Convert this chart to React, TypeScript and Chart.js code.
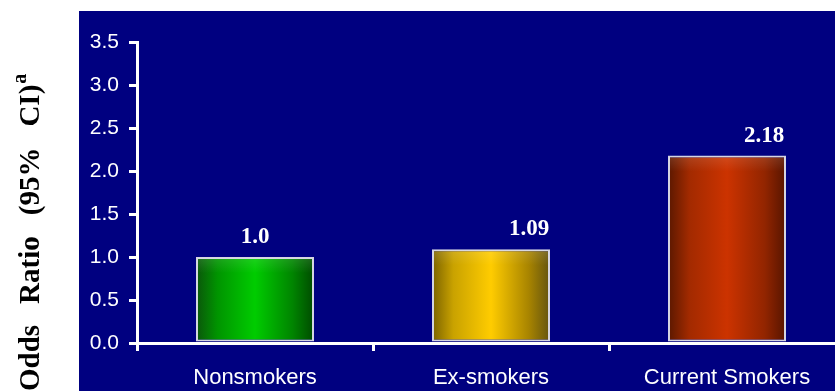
import { useEffect, useRef } from "react";
import { Chart, registerables } from "chart.js";

Chart.register(...registerables);

// Smoking status groups and their odds ratios
const categories = ["Nonsmokers", "Ex-smokers", "Current Smokers"];
const oddsRatios = [1.0, 1.09, 2.18];
const valueLabels = ["1.0", "1.09", "2.18"];
const yTickValues = [0, 0.5, 1, 1.5, 2, 2.5, 3, 3.5];

// Horizontal shading of each bar (edge -> centre -> edge)
const barShades = [
  ["#0b550b", "#009400", "#00cc00", "#008400", "#004a00"],
  ["#7a6200", "#c9a200", "#ffcc00", "#a88400", "#645410"],
  ["#5a1800", "#a22a00", "#cc3300", "#922500", "#561400"],
];

const SANS = "'Liberation Sans', Arial, sans-serif";
const SERIF = "'Liberation Serif', 'Times New Roman', serif";

const panelPlugin = {
  id: "panel",
  beforeDraw(chart: any) {
    const { ctx, width, height } = chart;
    ctx.save();
    ctx.fillStyle = "#ffffff";
    ctx.fillRect(0, 0, width, height);
    ctx.fillStyle = "#000080";
    ctx.fillRect(79, 11, width - 79, height - 11);
    ctx.restore();
  },
};

const valueLabelPlugin = {
  id: "valueLabels",
  afterDatasetsDraw(chart: any) {
    const { ctx } = chart;
    const shifts = [0, 38, 37];
    const meta = chart.getDatasetMeta(0);
    ctx.save();
    // soft sheen along the top of each bar
    meta.data.forEach((bar: any) => {
      const half = bar.width / 2;
      const g = ctx.createLinearGradient(0, bar.y, 0, bar.y + 16);
      g.addColorStop(0, "rgba(255,255,255,0.12)");
      g.addColorStop(1, "rgba(255,255,255,0)");
      ctx.fillStyle = g;
      ctx.fillRect(bar.x - half + 1, bar.y + 1, bar.width - 2, 16);
    });
    ctx.fillStyle = "#ffffff";
    ctx.font = `bold 23px ${SERIF}`;
    ctx.textAlign = "center";
    ctx.textBaseline = "alphabetic";
    meta.data.forEach((bar: any, i: number) => {
      ctx.fillText(valueLabels[i], bar.x + shifts[i], bar.y - 14);
    });
    ctx.restore();
  },
};

const yTitlePlugin = {
  id: "yTitle",
  afterDraw(chart: any) {
    const { ctx } = chart;
    const words = ["Odds", "Ratio", "(95%", "CI)"];
    const gap = 21;
    ctx.save();
    ctx.translate(39, 391);
    ctx.rotate(-Math.PI / 2);
    ctx.fillStyle = "#000000";
    ctx.textAlign = "left";
    ctx.textBaseline = "alphabetic";
    ctx.font = `bold 29px ${SERIF}`;
    let pos = 0;
    words.forEach((w, i) => {
      ctx.fillText(w, pos, 0);
      pos += ctx.measureText(w).width + (i < words.length - 1 ? gap : 1);
    });
    ctx.font = `bold 20px ${SERIF}`;
    ctx.fillText("a", pos, -13);
    ctx.restore();
  },
};

export default function App() {
  const canvasRef = useRef<HTMLCanvasElement | null>(null);

  useEffect(() => {
    if (!canvasRef.current) return;
    const chart = new Chart(canvasRef.current, {
      type: "bar",
      data: {
        labels: categories,
        datasets: [
          {
            data: oddsRatios,
            barPercentage: 0.5,
            categoryPercentage: 1.0,
            borderColor: "rgba(235,235,235,0.9)",
            borderWidth: 2,
            borderSkipped: false,
            backgroundColor: (c: any) => {
              const shades = barShades[c.dataIndex] || barShades[0];
              const chartRef = c.chart;
              const xs = chartRef.scales && chartRef.scales.x;
              if (!chartRef.chartArea || !xs) return shades[2];
              const cx = xs.getPixelForValue(c.dataIndex);
              const half = (xs.width / categories.length) * 0.25;
              const g = chartRef.ctx.createLinearGradient(cx - half, 0, cx + half, 0);
              g.addColorStop(0, shades[0]);
              g.addColorStop(0.18, shades[1]);
              g.addColorStop(0.5, shades[2]);
              g.addColorStop(0.82, shades[3]);
              g.addColorStop(1, shades[4]);
              return g;
            },
          },
        ],
      },
      options: {
        responsive: false,
        animation: false,
        devicePixelRatio: 1,
        layout: { padding: { left: 0, top: 42, right: 5, bottom: 0 } },
        plugins: {
          legend: { display: false },
          tooltip: { enabled: false },
          title: { display: false },
        },
        scales: {
          x: {
            type: "category",
            grid: {
              offset: true,
              drawOnChartArea: false,
              drawTicks: true,
              tickLength: 8,
              color: "#ffffff",
              lineWidth: 3,
            },
            border: { display: true, color: "#ffffff", width: 3 },
            ticks: {
              color: "#ffffff",
              font: { family: SANS, size: 22 },
              padding: 14,
              maxRotation: 0,
              autoSkip: false,
            },
            afterFit: (s: any) => {
              s.height = 48;
            },
          },
          y: {
            type: "linear",
            min: 0,
            max: 3.5,
            afterBuildTicks: (s: any) => {
              s.ticks = yTickValues.map((v) => ({ value: v }));
            },
            grid: {
              drawOnChartArea: false,
              drawTicks: true,
              tickLength: 8,
              color: "#ffffff",
              lineWidth: 3,
            },
            border: { display: true, color: "#ffffff", width: 3 },
            ticks: {
              color: "#ffffff",
              font: { family: SANS, size: 21 },
              padding: 10,
              callback: (v: any) => Number(v).toFixed(1),
            },
            afterFit: (s: any) => {
              s.width = 137;
            },
          },
        },
      },
      plugins: [panelPlugin, valueLabelPlugin, yTitlePlugin],
    });
    return () => chart.destroy();
  }, []);

  return (
    <div
      style={{
        position: "absolute",
        left: 0,
        top: 0,
        width: 835,
        height: 391,
        overflow: "hidden",
        background: "#ffffff",
      }}
    >
      <canvas ref={canvasRef} width={850} height={391} style={{ display: "block" }} />
    </div>
  );
}
